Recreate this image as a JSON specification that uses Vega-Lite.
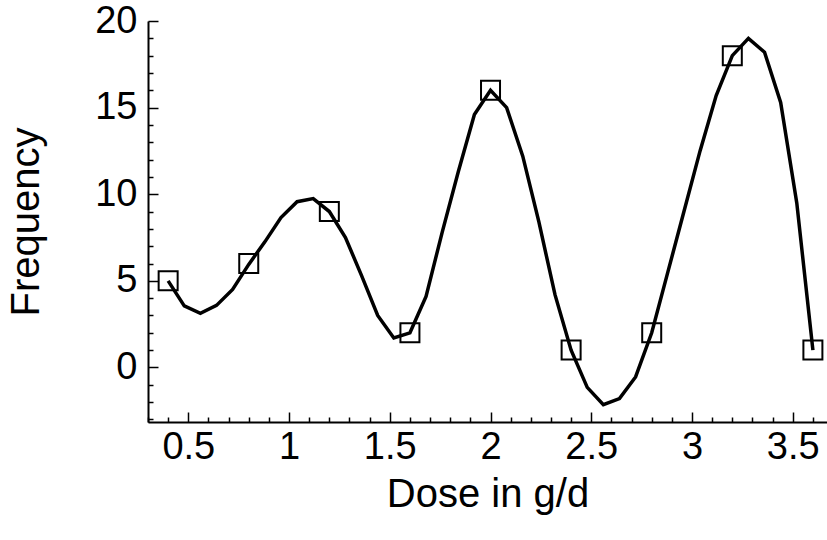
{
  "$schema": "https://vega.github.io/schema/vega-lite/v6.json",
  "width": 679,
  "height": 401,
  "autosize": {"type": "none"},
  "padding": {"left": 148, "top": 21, "right": 0, "bottom": 118},
  "background": "white",
  "config": {
    "view": {"stroke": null},
    "axis": {
      "labelFont": "Liberation Sans",
      "titleFont": "Liberation Sans",
      "labelFontSize": 38,
      "titleFontSize": 40,
      "titleFontWeight": "normal",
      "labelColor": "black",
      "titleColor": "black",
      "domainColor": "black",
      "domainWidth": 2,
      "tickColor": "black",
      "tickWidth": 1.5,
      "grid": false
    }
  },
  "datasets": {
    "curve": [
      {"dose": 0.40, "freq": 5.0},
      {"dose": 0.48, "freq": 3.55},
      {"dose": 0.56, "freq": 3.12},
      {"dose": 0.64, "freq": 3.58},
      {"dose": 0.72, "freq": 4.5},
      {"dose": 0.80, "freq": 5.95},
      {"dose": 0.88, "freq": 7.25},
      {"dose": 0.96, "freq": 8.65},
      {"dose": 1.04, "freq": 9.57},
      {"dose": 1.12, "freq": 9.75},
      {"dose": 1.20, "freq": 9.0},
      {"dose": 1.28, "freq": 7.5},
      {"dose": 1.36, "freq": 5.3},
      {"dose": 1.44, "freq": 3.0},
      {"dose": 1.52, "freq": 1.7},
      {"dose": 1.60, "freq": 2.0},
      {"dose": 1.68, "freq": 4.1},
      {"dose": 1.76, "freq": 7.8},
      {"dose": 1.84, "freq": 11.3},
      {"dose": 1.92, "freq": 14.6},
      {"dose": 2.00, "freq": 16.0},
      {"dose": 2.08, "freq": 15.0},
      {"dose": 2.16, "freq": 12.2},
      {"dose": 2.24, "freq": 8.4},
      {"dose": 2.32, "freq": 4.2},
      {"dose": 2.40, "freq": 1.0},
      {"dose": 2.48, "freq": -1.15},
      {"dose": 2.56, "freq": -2.15},
      {"dose": 2.64, "freq": -1.8},
      {"dose": 2.72, "freq": -0.55},
      {"dose": 2.80, "freq": 2.0},
      {"dose": 2.88, "freq": 5.5},
      {"dose": 2.96, "freq": 9.0},
      {"dose": 3.04, "freq": 12.5},
      {"dose": 3.12, "freq": 15.7},
      {"dose": 3.20, "freq": 18.0},
      {"dose": 3.28, "freq": 19.0},
      {"dose": 3.36, "freq": 18.2},
      {"dose": 3.44, "freq": 15.3},
      {"dose": 3.52, "freq": 9.5},
      {"dose": 3.60, "freq": 1.0}
    ],
    "observed": [
      {"dose": 0.4, "freq": 5},
      {"dose": 0.8, "freq": 6},
      {"dose": 1.2, "freq": 9},
      {"dose": 1.6, "freq": 2},
      {"dose": 2.0, "freq": 16},
      {"dose": 2.4, "freq": 1},
      {"dose": 2.8, "freq": 2},
      {"dose": 3.2, "freq": 18},
      {"dose": 3.6, "freq": 1}
    ]
  },
  "layer": [
    {
      "data": {"name": "curve"},
      "mark": {"type": "line", "color": "black", "strokeWidth": 3.5, "clip": true},
      "encoding": {
        "x": {
          "field": "dose", "type": "quantitative",
          "scale": {"domain": [0.3, 3.67], "nice": false, "zero": false},
          "axis": {
            "orient": "bottom",
            "title": "Dose in g/d",
            "values": [0.5, 1, 1.5, 2, 2.5, 3, 3.5],
            "format": "~g",
            "tickSize": -10,
            "labelPadding": 16,
            "titlePadding": 8,
            "labelFlush": false
          }
        },
        "y": {
          "field": "freq", "type": "quantitative",
          "scale": {"domain": [-3.15, 20], "nice": false, "zero": false},
          "axis": {
            "orient": "left",
            "title": "Frequency",
            "values": [0, 5, 10, 15, 20],
            "format": "~g",
            "tickSize": -10,
            "labelPadding": 21,
            "titlePadding": 48
          }
        }
      }
    },
    {
      "data": {"name": "observed"},
      "mark": {"type": "point", "shape": "square", "size": 361, "filled": false, "stroke": "black", "strokeWidth": 2, "opacity": 1},
      "encoding": {
        "x": {
          "field": "dose", "type": "quantitative",
          "axis": {
            "orient": "bottom",
            "title": null,
            "labels": false,
            "domain": false,
            "tickSize": -5,
            "values": [0.3, 0.4, 0.6, 0.7, 0.8, 0.9, 1.1, 1.2, 1.3, 1.4, 1.6, 1.7, 1.8, 1.9, 2.1, 2.2, 2.3, 2.4, 2.6, 2.7, 2.8, 2.9, 3.1, 3.2, 3.3, 3.4, 3.6]
          }
        },
        "y": {
          "field": "freq", "type": "quantitative",
          "axis": {
            "orient": "left",
            "title": null,
            "labels": false,
            "domain": false,
            "tickSize": -5,
            "values": [-3, -2, -1, 1, 2, 3, 4, 6, 7, 8, 9, 11, 12, 13, 14, 16, 17, 18, 19]
          }
        }
      }
    },
    {
      "mark": {"type": "rule", "color": "black", "strokeWidth": 2},
      "encoding": {
        "y": {"datum": 20, "type": "quantitative", "axis": null}
      }
    }
  ],
  "resolve": {"axis": {"x": "independent", "y": "independent"}}
}
